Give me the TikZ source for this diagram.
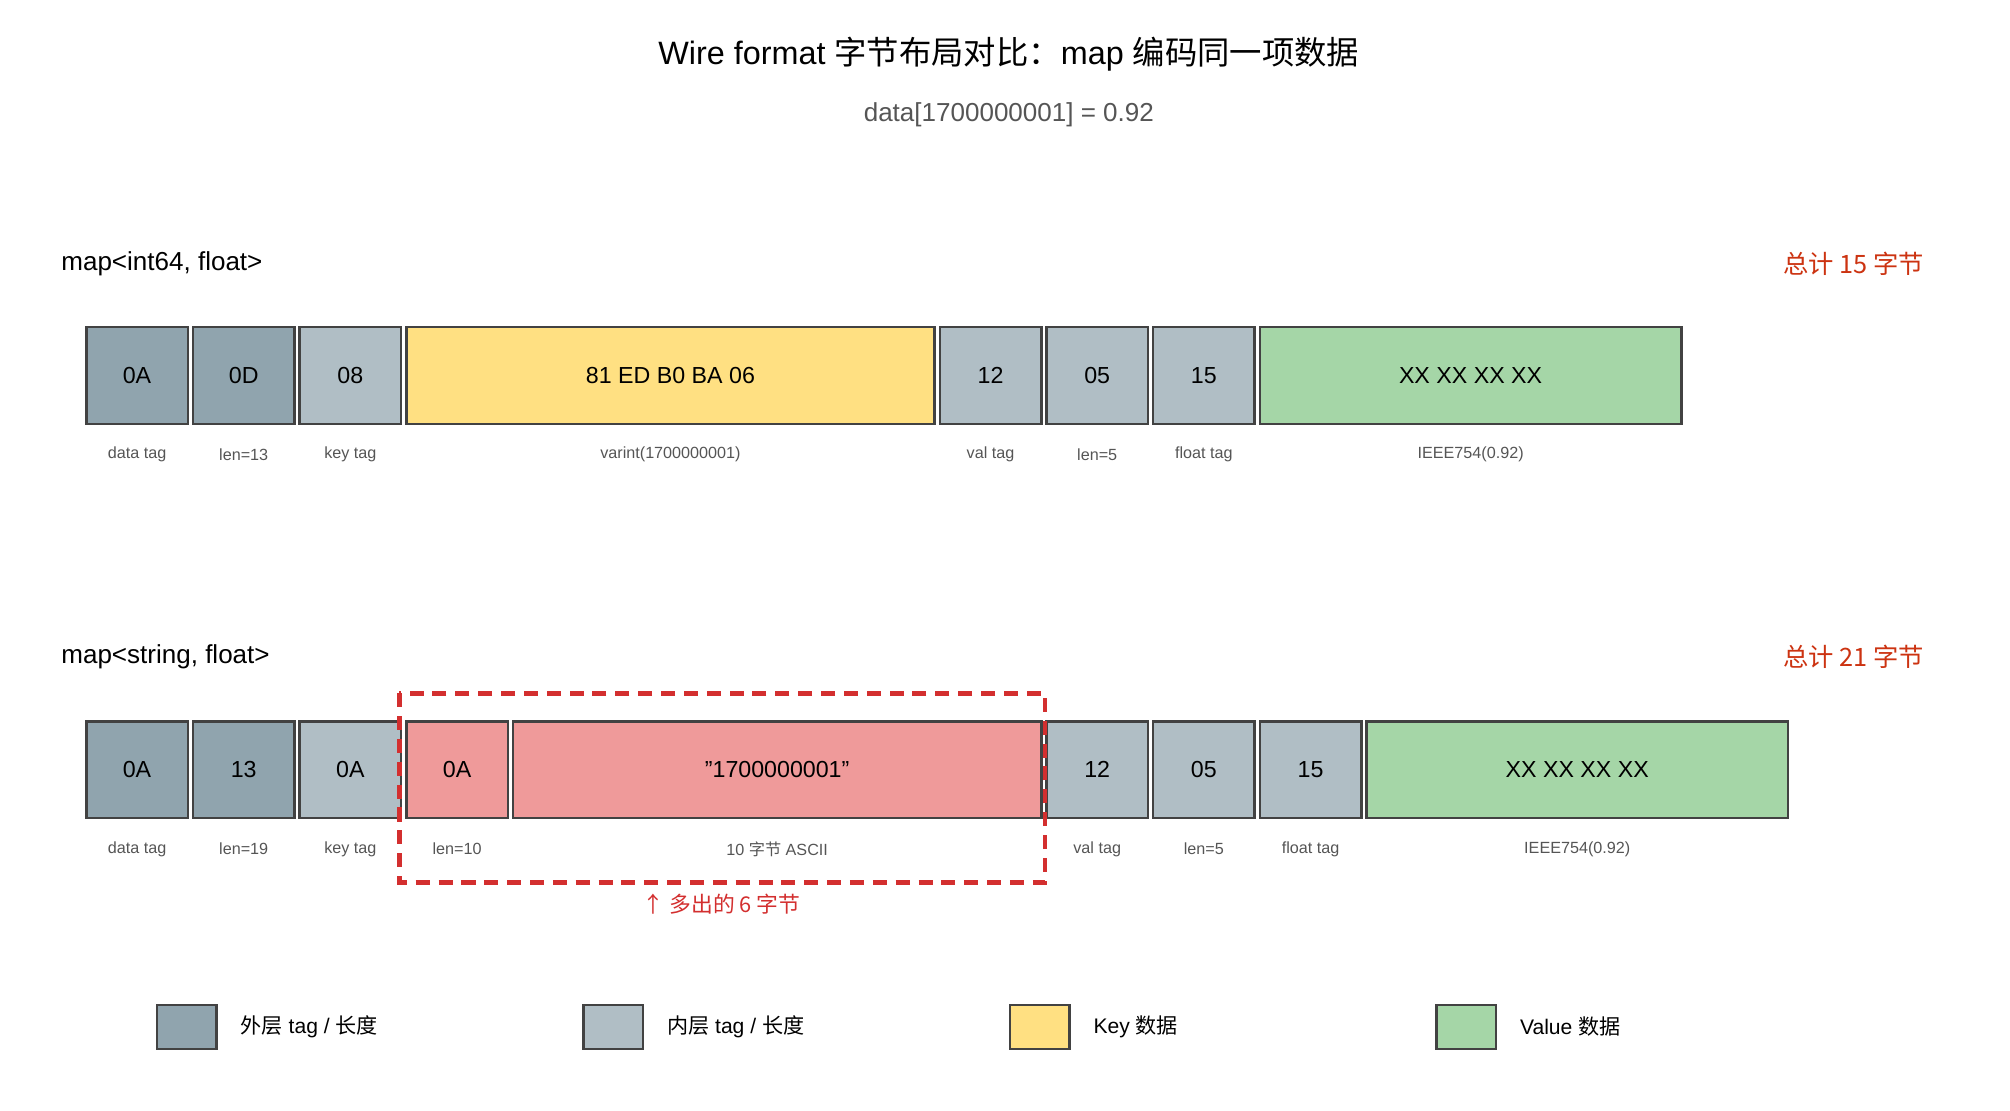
\documentclass[tikz,border=0pt]{standalone}
\usepackage{fontspec}
\setmainfont{Liberation Sans}
\newfontfamily\cjk{Noto Sans CJK SC}
\usetikzlibrary{positioning}
\definecolor{outer}{HTML}{90A4AE}
\definecolor{inner}{HTML}{B0BEC5}
\definecolor{keyc}{HTML}{FFE082}
\definecolor{valc}{HTML}{A5D6A7}
\definecolor{extra}{HTML}{EF9A9A}
\definecolor{edge}{HTML}{424242}
\definecolor{redtxt}{HTML}{CC3311}
\definecolor{reddash}{HTML}{D32F2F}
\definecolor{greytxt}{HTML}{555555}
% one cell of the byte row: name, first slot, slots, fill, text, label, top y
\newcommand{\cell}[7]{%
  \node[bytebox, fill=#4, minimum width={(#3*82.8-4)*0.012885cm}]
    (#1) at ({66+82.8*#2}, #7) {#5};
  \path (#1.south) ++(0,23) node[lbl] (#1-l) {#6};}
\begin{document}
\begin{tikzpicture}[x=0.012885cm, y=-0.012885cm,
    bytebox/.style={draw=edge, line width=0.7pt, anchor=north west,
      minimum height={75*0.012885cm}, inner sep=0pt, font=\fontsize{6.6}{8}\selectfont},
    lbl/.style={text=greytxt, font=\fontsize{4.6}{6}\selectfont},
    hdr/.style={anchor=west, font=\fontsize{7.4}{9}\selectfont},
    total/.style={anchor=east, text=redtxt, font=\fontsize{7.2}{9}\cjk},
    legbox/.style={draw=edge, line width=0.7pt, anchor=north west,
      minimum width={46*0.012885cm}, minimum height={34*0.012885cm}, inner sep=0pt},
    legtxt/.style={anchor=west, font=\fontsize{6}{8}\selectfont}]
\useasboundingbox (0,0) rectangle (1560,861.5);
\node (title) at (783,42) {\fontsize{9.2}{11}\selectfont Wire format {\cjk 字节布局对比：}map {\cjk 编码同一项数据}};
\node[text=greytxt] (sub) at (783,89) {\fontsize{7.4}{9}\selectfont data[1700000001] = 0.92};

% map<int64, float>
\node[hdr] (h1) at (38,205) {map<int64, float>};
\node[total] (t1) at (1503,205) {总计 15 字节};
\cell{a0}{0}{1}{outer}{0A}{data tag}{253}
\cell{a1}{1}{1}{outer}{0D}{len=13}{253}
\cell{a2}{2}{1}{inner}{08}{key tag}{253}
\cell{a3}{3}{5}{keyc}{81 ED B0 BA 06}{varint(1700000001)}{253}
\cell{a4}{8}{1}{inner}{12}{val tag}{253}
\cell{a5}{9}{1}{inner}{05}{len=5}{253}
\cell{a6}{10}{1}{inner}{15}{float tag}{253}
\cell{a7}{11}{4}{valc}{XX XX XX XX}{IEEE754(0.92)}{253}

% map<string, float>
\node[hdr] (h2) at (38,510) {map<string, float>};
\node[total] (t2) at (1503,510) {总计 21 字节};
\cell{b0}{0}{1}{outer}{0A}{data tag}{559}
\cell{b1}{1}{1}{outer}{13}{len=19}{559}
\cell{b2}{2}{1}{inner}{0A}{key tag}{559}
\cell{b3}{3}{1}{extra}{0A}{len=10}{559}
\cell{b4}{4}{5}{extra}{"1700000001"}{10 {\cjk 字节} ASCII}{559}
\cell{b5}{9}{1}{inner}{12}{val tag}{559}
\cell{b6}{10}{1}{inner}{05}{len=5}{559}
\cell{b7}{11}{1}{inner}{15}{float tag}{559}
\cell{b8}{12}{4}{valc}{XX XX XX XX}{IEEE754(0.92)}{559}
\draw[reddash, line width=1.3pt, dash pattern=on 4pt off 2.5pt] (310,538) rectangle (811,685);
\node[text=reddash, font=\fontsize{6.2}{8}\cjk] (more) at (560,702) {↑ 多出的 6 字节};

% legend
\node[legbox, fill=outer] (k1) at (121,779) {};
\node[legtxt, right=3pt of k1] (k1t) {{\cjk 外层} tag / {\cjk 长度}};
\node[legbox, fill=inner] (k2) at (452,779) {};
\node[legtxt, right=3pt of k2] (k2t) {{\cjk 内层} tag / {\cjk 长度}};
\node[legbox, fill=keyc] (k3) at (783,779) {};
\node[legtxt, right=3pt of k3] (k3t) {Key {\cjk 数据}};
\node[legbox, fill=valc] (k4) at (1114,779) {};
\node[legtxt, right=3pt of k4] (k4t) {Value {\cjk 数据}};
\end{tikzpicture}
\end{document}
